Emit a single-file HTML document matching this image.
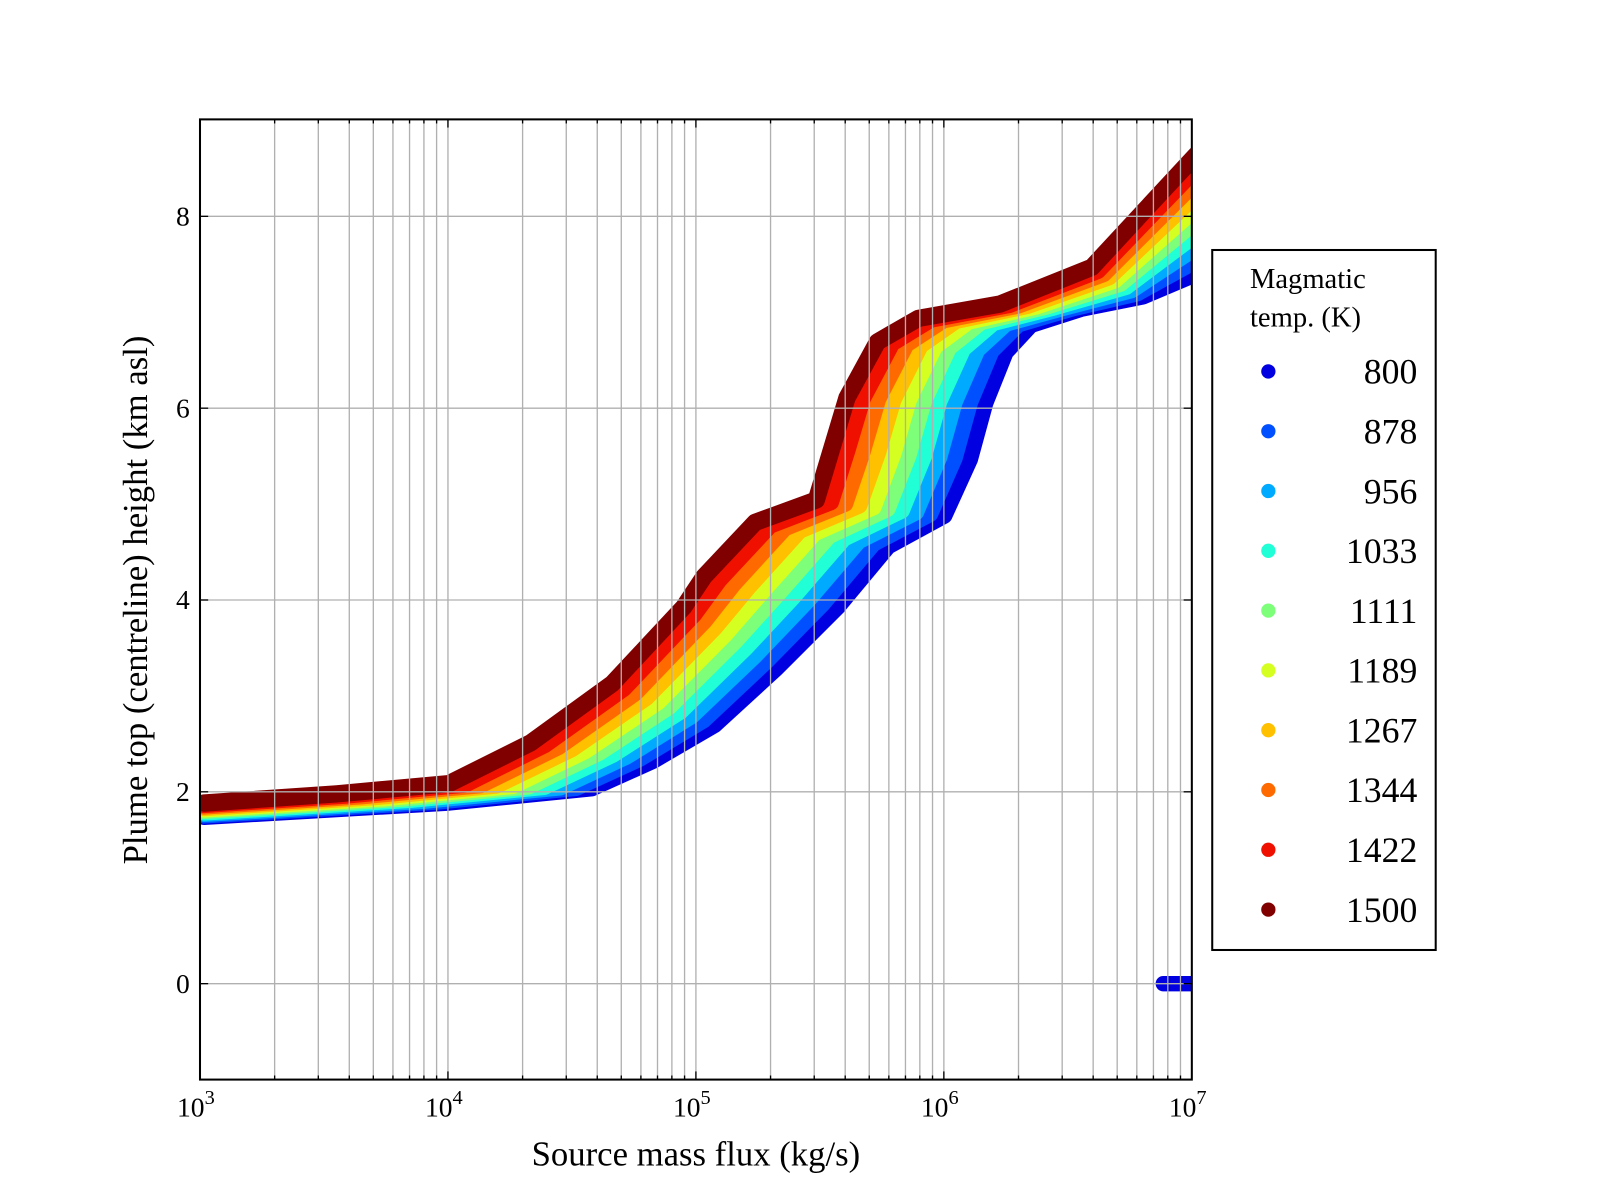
<!DOCTYPE html>
<html><head><meta charset="utf-8"><style>
html,body{margin:0;padding:0;background:#fff;}
svg{display:block;font-family:"Liberation Serif",serif;}
</style></head><body>
<svg id="s" width="1600" height="1200" xmlns="http://www.w3.org/2000/svg">
<defs><clipPath id="c"><rect x="196" y="117" width="972" height="941"/></clipPath></defs>
<g transform="scale(1.0204)">
<g id="data" clip-path="url(#c)"></g>
<g id="grid"></g>
<rect x="196" y="117" width="972" height="941" fill="none" stroke="#000" stroke-width="2"/>
<g id="ticks"></g>
<g font-size="27" text-anchor="end">
<text x="186" y="973">0</text><text x="186" y="785">2</text><text x="186" y="597">4</text><text x="186" y="409">6</text><text x="186" y="221">8</text>
</g>
<g font-size="27" text-anchor="middle" id="xl"></g>
<text x="682" y="1142" font-size="34" text-anchor="middle">Source mass flux (kg/s)</text>
<text transform="translate(144,588) rotate(-90)" font-size="34" text-anchor="middle">Plume top (centreline) height (km asl)</text>
<rect x="1188" y="245" width="219" height="686" fill="#fff" stroke="#000" stroke-width="2"/>
<text x="1225" y="282" font-size="28">Magmatic</text>
<text x="1225" y="320" font-size="28">temp. (K)</text>
<g id="leg" font-size="35" text-anchor="end"></g>
</g>
</svg>
<script>
const NS="http://www.w3.org/2000/svg";
function el(p,t,a,txt){const e=document.createElementNS(NS,t);for(const k in a)e.setAttribute(k,a[k]);if(txt!==undefined)e.textContent=txt;p.appendChild(e);return e;}
const cols=["#0000e0","#0050ff","#00aaff","#20ffd5","#7dff7a","#d5ff20","#ffc000","#ff6a00","#f01000","#800000"];
const labs=["800","878","956","1033","1111","1189","1267","1344","1422","1500"];
const a=[[200,800],[440,786],[580,772],[640,745],[700,710],[760,655],[820,595],[870,535],[925,505],[950,450],[965,395],[985,345],[1010,318],[1060,302],[1120,290],[1172,268]];
const b=[[200,787],[330,778],[440,768],[520,728],[600,670],[670,595],[690,565],[740,512],[800,490],[815,440],[830,390],[860,335],[900,312],[980,298],[1070,262],[1172,152]];
const d=document.getElementById("data");
for(let i=0;i<10;i++){const t=i/9;const pts=a.map((p,k)=>[(p[0]*(1-t)+b[k][0]*t).toFixed(1),(p[1]*(1-t)+b[k][1]*t).toFixed(1)].join(",")).join(" ");
el(d,"polyline",{points:pts,fill:"none",stroke:cols[i],"stroke-width":17,"stroke-linejoin":"round","stroke-linecap":"round"});}
el(d,"line",{x1:1140,y1:964,x2:1180,y2:964,stroke:"#0000e0","stroke-width":15,"stroke-linecap":"round"});
const g=document.getElementById("grid"),tk=document.getElementById("ticks");
for(let dec=0;dec<4;dec++)for(let m=1;m<10;m++){const x=196+243*(dec+Math.log10(m));
if(x>196.5){el(g,"line",{x1:x,y1:117,x2:x,y2:1058,stroke:"#b0b0b0","stroke-width":1.3});}
const L=m==1?8:4;el(tk,"line",{x1:x,y1:1058,x2:x,y2:1058-L,stroke:"#000","stroke-width":1.3});el(tk,"line",{x1:x,y1:117,x2:x,y2:117+L,stroke:"#000","stroke-width":1.3});}
for(let v=0;v<=8;v+=2){const y=964-94*v;el(g,"line",{x1:196,y1:y,x2:1168,y2:y,stroke:"#b0b0b0","stroke-width":1.3});
el(tk,"line",{x1:196,y1:y,x2:204,y2:y,stroke:"#000","stroke-width":1.3});el(tk,"line",{x1:1168,y1:y,x2:1160,y2:y,stroke:"#000","stroke-width":1.3});}
const xl=document.getElementById("xl");
for(let e=3;e<=7;e++){const x=196+243*(e-3);const t=el(xl,"text",{x:x-4,y:1094});t.appendChild(document.createTextNode("10"));
el(t,"tspan",{dy:-12,"font-size":20},String(e));}
const lg=document.getElementById("leg");
for(let i=0;i<10;i++){const y=364+58.6*i;el(lg,"circle",{cx:1243,cy:y,r:7,fill:cols[i]});el(lg,"text",{x:1389,y:y+12},labs[i]);}
</script>
</body></html>
